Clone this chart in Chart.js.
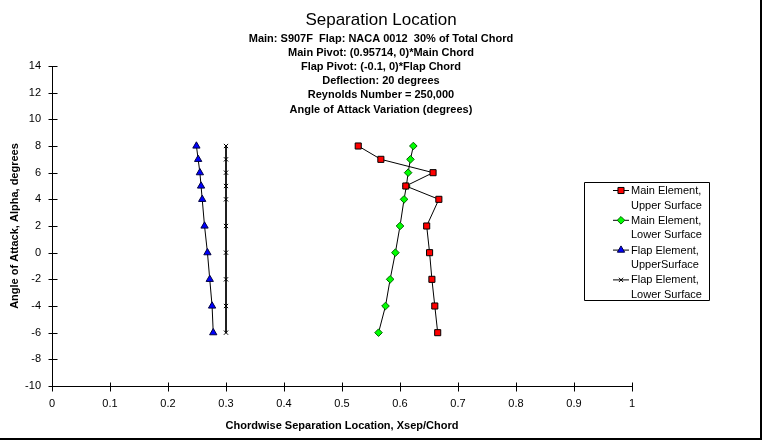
<!DOCTYPE html>
<html><head><meta charset="utf-8">
<script src="https://cdn.jsdelivr.net/npm/chart.js@4.4.1/dist/chart.umd.min.js"></script>
<style>
html,body{margin:0;padding:0;background:#fff;}
#wrap{position:absolute;left:0;top:0;width:760px;height:438px;border-right:2px solid #000;border-bottom:2px solid #000;background:#fff;}
canvas{display:block;}
</style></head><body>
<div id="wrap"><canvas id="c" width="760" height="438"></canvas></div>
<script>
const titleText = 'Separation Location';
const subtitleLines = [
  'Main: S907F  Flap: NACA 0012  30% of Total Chord',
  'Main Pivot: (0.95714, 0)*Main Chord',
  'Flap Pivot: (-0.1, 0)*Flap Chord',
  'Deflection: 20 degrees',
  'Reynolds Number = 250,000',
  'Angle of Attack Variation (degrees)'
];
const xAxisTitle = 'Chordwise Separation Location, Xsep/Chord';
const yAxisTitle = 'Angle of Attack, Alpha, degrees';
const xTickValues = [0, 0.1, 0.2, 0.3, 0.4, 0.5, 0.6, 0.7, 0.8, 0.9, 1];
const xTickLabels = ['0', '0.1', '0.2', '0.3', '0.4', '0.5', '0.6', '0.7', '0.8', '0.9', '1'];
const yTickValues = [-10, -8, -6, -4, -2, 0, 2, 4, 6, 8, 10, 12, 14];
const yTickLabels = ['-10', '-8', '-6', '-4', '-2', '0', '2', '4', '6', '8', '10', '12', '14'];

const alpha = [8, 7, 6, 5, 4, 2, 0, -2, -4, -6];
const mainUpper = [0.528, 0.567, 0.657, 0.610, 0.667, 0.646, 0.651, 0.655, 0.660, 0.665];
const mainLower = [0.623, 0.618, 0.614, 0.611, 0.607, 0.600, 0.592, 0.583, 0.575, 0.563];
const flapUpper = [0.249, 0.252, 0.255, 0.257, 0.259, 0.263, 0.268, 0.272, 0.276, 0.278];
const flapLower = [0.300, 0.300, 0.300, 0.300, 0.300, 0.300, 0.300, 0.300, 0.300, 0.300];
const seriesNames = [
  ['Main Element,', 'Upper Surface'],
  ['Main Element,', 'Lower Surface'],
  ['Flap Element,', 'UpperSurface'],
  ['Flap Element,', 'Lower Surface']
];

const FONT = '"Liberation Sans", Arial, sans-serif';
Chart.defaults.font.family = FONT;
Chart.defaults.font.size = 11;
Chart.defaults.color = '#000';

function pts(xs) { return xs.map((x, i) => ({x: x, y: alpha[i]})); }

const styles = [
  {pointStyle: 'rect', radius: 4.3, bg: '#ff0000', border: '#000', bw: 1},
  {pointStyle: 'rectRot', radius: 3.8, bg: '#00ff00', border: '#006000', bw: 1},
  {pointStyle: 'triangle', radius: 4.2, bg: '#0000ff', border: '#000040', bw: 1},
  {pointStyle: 'crossRot', radius: 3, bg: '#000', border: '#000', bw: 1}
];
const seriesData = [mainUpper, mainLower, flapUpper, flapLower];

const datasets = seriesData.map((d, i) => ({
  label: seriesNames[i].join(' '),
  data: pts(d),
  showLine: true,
  borderColor: '#000',
  borderWidth: 1,
  pointStyle: styles[i].pointStyle,
  pointRadius: styles[i].radius,
  pointBackgroundColor: styles[i].bg,
  pointBorderColor: styles[i].border,
  pointBorderWidth: styles[i].bw,
  tension: 0
}));

function drawMarker(ctx, st, x, y) {
  ctx.save();
  ctx.fillStyle = st.bg;
  ctx.strokeStyle = st.border;
  ctx.lineWidth = st.bw;
  if (Chart.helpers && Chart.helpers.drawPoint) {
    Chart.helpers.drawPoint(ctx, {pointStyle: st.pointStyle, radius: st.radius, rotation: 0, borderWidth: st.bw}, x, y);
  }
  ctx.restore();
}

const overlay = {
  id: 'overlay',
  afterDraw(chart) {
    const ctx = chart.ctx;
    const xs = chart.scales.x, ys = chart.scales.y;
    ctx.save();
    ctx.strokeStyle = '#000';
    ctx.lineWidth = 1;
    const ax = Math.round(xs.getPixelForValue(0)) + 0.5;
    const ay = Math.round(ys.getPixelForValue(-10)) + 0.5;
    const topY = Math.round(ys.getPixelForValue(14)) + 0.5;
    const rightX = Math.round(xs.getPixelForValue(1)) + 0.5;
    ctx.beginPath();
    ctx.moveTo(ax, topY); ctx.lineTo(ax, ay);
    ctx.moveTo(ax, ay); ctx.lineTo(rightX, ay);
    yTickValues.forEach(v => {
      const py = Math.round(ys.getPixelForValue(v)) + 0.5;
      ctx.moveTo(ax - 4, py); ctx.lineTo(ax + 5, py);
    });
    xTickValues.forEach(v => {
      const px = Math.round(xs.getPixelForValue(v)) + 0.5;
      ctx.moveTo(px, ay - 4); ctx.lineTo(px, ay + 5);
    });
    ctx.stroke();

    // title
    ctx.fillStyle = '#000';
    ctx.textAlign = 'center';
    ctx.textBaseline = 'middle';
    ctx.font = '17px ' + FONT;
    ctx.fillText(titleText, 381, 20);
    ctx.font = 'bold 11px ' + FONT;
    subtitleLines.forEach((t, i) => ctx.fillText(t, 381, 38.5 + i * 14.2));

    // legend
    ctx.beginPath();
    ctx.rect(584.5, 182.5, 125, 118);
    ctx.stroke();
    ctx.font = '11px ' + FONT;
    ctx.textAlign = 'left';
    seriesNames.forEach((lines, i) => {
      const y1 = 190.5 + i * 29.8;
      ctx.beginPath();
      ctx.moveTo(613, y1); ctx.lineTo(629, y1);
      ctx.stroke();
      drawMarker(ctx, styles[i], 621, y1);
      ctx.fillStyle = '#000';
      ctx.fillText(lines[0], 631, y1 + 0.5);
      ctx.fillText(lines[1], 631, y1 + 15);
    });
    ctx.restore();
  }
};

new Chart(document.getElementById('c'), {
  type: 'scatter',
  data: {datasets: datasets},
  options: {
    responsive: false,
    animation: false,
    layout: {padding: {left: 0, top: 66, right: 128, bottom: 0}},
    plugins: {legend: {display: false}, title: {display: false}, tooltip: {enabled: false}},
    scales: {
      x: {
        type: 'linear', min: 0, max: 1,
        afterFit(s) { s.height = 52; },
        afterBuildTicks(s) { s.ticks = xTickValues.map(v => ({value: v})); },
        grid: {display: false, drawTicks: true, tickLength: 4},
        border: {display: false},
        ticks: {padding: 7, maxRotation: 0, autoSkip: false, color: '#000', font: {size: 11},
          callback: (v, i) => xTickLabels[i]},
        title: {display: true, text: xAxisTitle, color: '#000', font: {size: 11, weight: 'bold'}, padding: {top: 0, bottom: 5.4}}
      },
      y: {
        type: 'linear', min: -10, max: 14,
        afterFit(s) { s.width = 52; },
        afterBuildTicks(s) { s.ticks = yTickValues.map(v => ({value: v})); },
        grid: {display: false, drawTicks: true, tickLength: 4},
        border: {display: false},
        ticks: {padding: 7, autoSkip: false, color: '#000', font: {size: 11},
          callback: (v, i) => yTickLabels[i]},
        title: {display: true, text: yAxisTitle, color: '#000', font: {size: 11, weight: 'bold'}, padding: {top: 8.4, bottom: 0}}
      }
    }
  },
  plugins: [overlay]
});
</script>
</body></html>
